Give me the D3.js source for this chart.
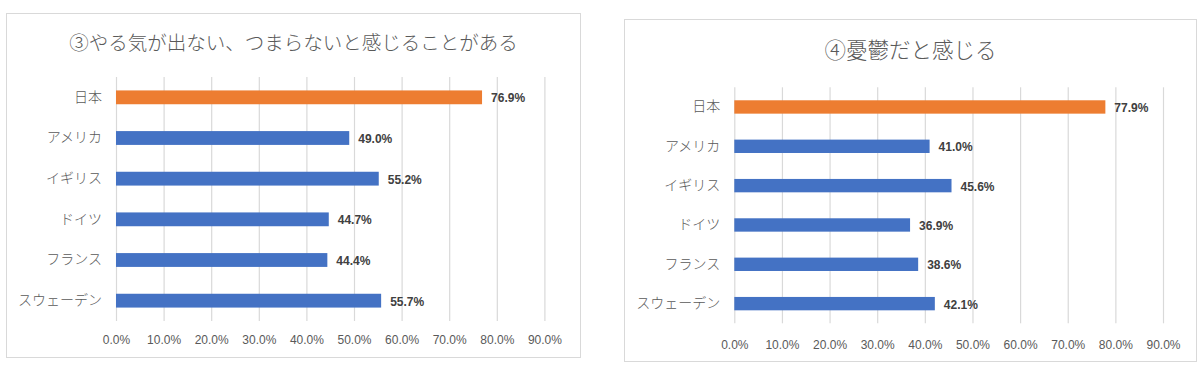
<!DOCTYPE html>
<html>
<head>
<meta charset="utf-8">
<script src="https://cdn.jsdelivr.net/npm/d3@7"></script>
<style>
  html, body { margin: 0; padding: 0; background: #fff; }
  svg { display: block; }
</style>
</head>
<body>
<svg id="chart" width="1200" height="380"></svg>
<script>
// ---- data ----
const categories = ["日本", "アメリカ", "イギリス", "ドイツ", "フランス", "スウェーデン"];
const titleLeft = "③やる気が出ない、つまらないと感じることがある";
const valuesLeft = [76.9, 49.0, 55.2, 44.7, 44.4, 55.7];
const titleRight = "④憂鬱だと感じる";
const valuesRight = [77.9, 41.0, 45.6, 36.9, 38.6, 42.1];
const tickValues = [0, 10, 20, 30, 40, 50, 60, 70, 80, 90];
const highlightCategory = "日本";

// ---- layout ----
const svg = d3.select("#chart");
const jpFont = "'Noto Sans CJK JP', 'Noto Sans', sans-serif";
const numFont = "'Liberation Sans', Arial, sans-serif";

const panels = [
  { title: titleLeft, values: valuesLeft,
    box: [6.5, 13.5, 574, 344], titleY: 41.5, titleSize: 19.5,
    x0: 116, x1: 544.4, y0: 77, y1: 321, tickY: 340 },
  { title: titleRight, values: valuesRight,
    box: [624.5, 19.5, 572, 342], titleY: 48.5, titleSize: 21.5,
    x0: 734.3, x1: 1163, y0: 87.3, y1: 323.3, tickY: 345 }
];

panels.forEach(p => {
  const g = svg.append("g");
  g.append("rect")
    .attr("x", p.box[0]).attr("y", p.box[1])
    .attr("width", p.box[2]).attr("height", p.box[3])
    .attr("fill", "#fff").attr("stroke", "#d9d9d9").attr("stroke-width", 1);

  g.append("text")
    .attr("x", p.box[0] + p.box[2] / 2).attr("y", p.titleY)
    .attr("text-anchor", "middle").attr("dominant-baseline", "central")
    .attr("font-family", jpFont).attr("font-size", p.titleSize)
    .attr("font-weight", 300)
    .attr("fill", "#595959")
    .text(p.title);

  const x = d3.scaleLinear().domain([0, 90]).range([p.x0, p.x1]);
  const y = d3.scaleBand().domain(categories).range([p.y0, p.y1]).paddingInner(0.66).paddingOuter(0.33);

  // grid + tick labels
  const xAxis = d3.axisBottom(x).tickValues(tickValues)
    .tickSize(-(p.y1 - p.y0)).tickFormat(d => d.toFixed(1) + "%");
  const ax = g.append("g").attr("transform", `translate(0,${p.y1})`).call(xAxis);
  ax.select(".domain").remove();
  ax.selectAll(".tick line").attr("stroke", "#d9d9d9").attr("stroke-width", 1.2);
  ax.selectAll(".tick text")
    .attr("y", p.tickY - p.y1).attr("dy", "0.35em")
    .attr("font-family", numFont).attr("font-size", 12).attr("fill", "#595959");

  // bars
  g.selectAll("rect.bar").data(categories).join("rect")
    .attr("class", "bar")
    .attr("x", x(0))
    .attr("y", d => y(d))
    .attr("width", (d, i) => x(p.values[i]) - x(0))
    .attr("height", y.bandwidth())
    .attr("fill", d => d === highlightCategory ? "#ED7D31" : "#4472C4");

  // category axis
  const yAxis = d3.axisLeft(y).tickSize(0).tickPadding(14);
  const ay = g.append("g").attr("transform", `translate(${p.x0},0)`).call(yAxis);
  ay.select(".domain").remove();
  ay.selectAll(".tick text")
    .attr("font-family", jpFont).attr("font-size", 14).attr("font-weight", 300)
    .attr("fill", "#595959");

  // value labels
  g.selectAll("text.val").data(categories).join("text")
    .attr("class", "val")
    .attr("x", (d, i) => x(p.values[i]) + 9)
    .attr("y", d => y(d) + y.bandwidth() / 2 + 1)
    .attr("dominant-baseline", "central")
    .attr("font-family", numFont).attr("font-size", 12).attr("font-weight", "bold")
    .attr("fill", "#404040")
    .text((d, i) => p.values[i].toFixed(1) + "%");
});
</script>
</body>
</html>
